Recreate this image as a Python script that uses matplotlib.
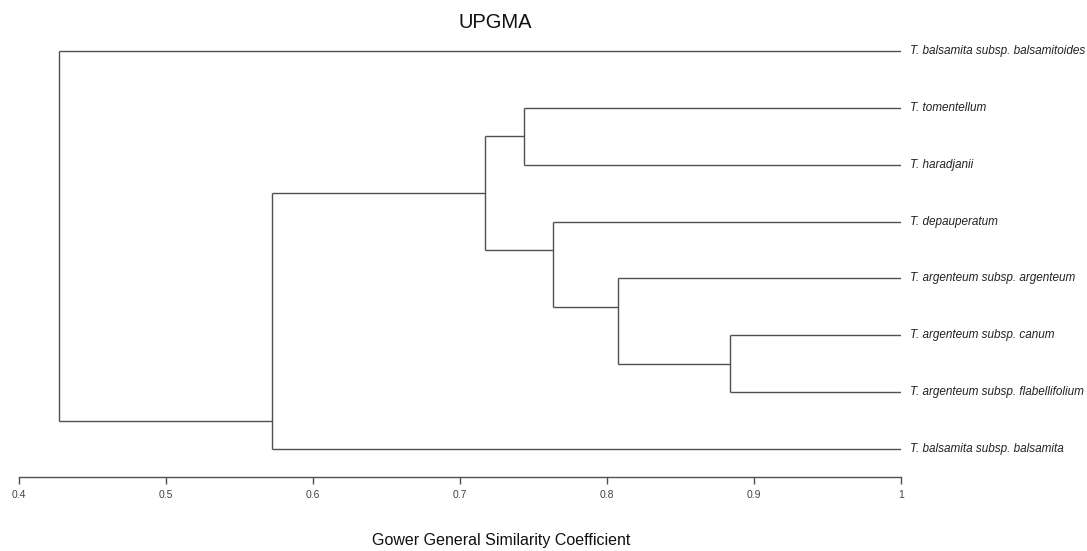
import matplotlib
matplotlib.use("Agg")
import matplotlib.pyplot as plt
from matplotlib import font_manager

# ---- data ----
leaf_labels = [
    "T. balsamita subsp. balsamitoides",
    "T. tomentellum",
    "T. haradjanii",
    "T. depauperatum",
    "T. argenteum subsp. argenteum",
    "T. argenteum subsp. canum",
    "T. argenteum subsp. flabellifolium",
    "T. balsamita subsp. balsamita",
]
# merges: (child_a, child_b, similarity); new cluster ids start at len(leaf_labels)
merge_a = [5, 4, 3, 1, 11, 12, 0]
merge_b = [6, 8, 9, 2, 10, 7, 13]
merge_sim = [0.884, 0.8075, 0.763, 0.7435, 0.717, 0.572, 0.427]
x_ticks = [0.4, 0.5, 0.6, 0.7, 0.8, 0.9, 1.0]
x_tick_labels = ["0.4", "0.5", "0.6", "0.7", "0.8", "0.9", "1"]

names = {f.name for f in font_manager.fontManager.ttflist}
narrow = "Liberation Sans Narrow" if "Liberation Sans Narrow" in names else "Liberation Sans"
narrow_size = 10.5 if narrow == "Liberation Sans Narrow" else 8.5

W, H = 1087, 551
fig = plt.figure(figsize=(W / 100, H / 100), dpi=100)
ax = fig.add_axes([19 / W, 1 - 477 / H, 882 / W, (477 - 40) / H])

n = len(leaf_labels)
pos = {}
leaves = {}
for i in range(n):
    pos[i] = (1.0, n - 1 - i)
    leaves[i] = [n - 1 - i]

line_kw = dict(color="#505050", lw=1.0, solid_capstyle="butt")
for k, (a, b, s) in enumerate(zip(merge_a, merge_b, merge_sim)):
    xa, ya = pos[a]
    xb, yb = pos[b]
    ax.plot([xa, s], [ya, ya], **line_kw)
    ax.plot([xb, s], [yb, yb], **line_kw)
    ax.plot([s, s], [ya, yb], **line_kw)
    upper, lower = (a, b) if ya > yb else (b, a)
    # connection point sits at the boundary between the two child groups
    node_y = (min(leaves[upper]) + max(leaves[lower])) / 2
    pos[n + k] = (s, node_y)
    leaves[n + k] = leaves[a] + leaves[b]

for i, lab in enumerate(leaf_labels):
    ax.text(1.0 + 9 / 1470, n - 1 - i, lab, fontstyle="italic", family=narrow,
            fontsize=narrow_size, va="center", ha="left", color="#222222")

ax.set_xlim(0.4, 1.0)
ax.set_ylim(-0.4925, n - 1 + 0.193)
for sp in ["top", "right", "left"]:
    ax.spines[sp].set_visible(False)
ax.spines["bottom"].set_color("#505050")
ax.spines["bottom"].set_linewidth(1.0)
ax.set_yticks([])
ax.set_xticks(x_ticks)
ax.set_xticklabels(x_tick_labels, family="Liberation Sans", fontsize=7.5, color="#444444")
ax.tick_params(axis="x", direction="out", length=5, width=1.0, color="#505050", pad=4)

fig.text(495 / W, 1 - 22 / H, "UPGMA", ha="center", va="center",
         family="Liberation Sans", fontsize=14.5, color="#111111")
fig.text(501 / W, 1 - 540 / H, "Gower General Similarity Coefficient", ha="center", va="center",
         family=narrow, fontsize=14 if narrow == "Liberation Sans Narrow" else 11.5, color="#111111")

fig.savefig("out.png", dpi=100)
